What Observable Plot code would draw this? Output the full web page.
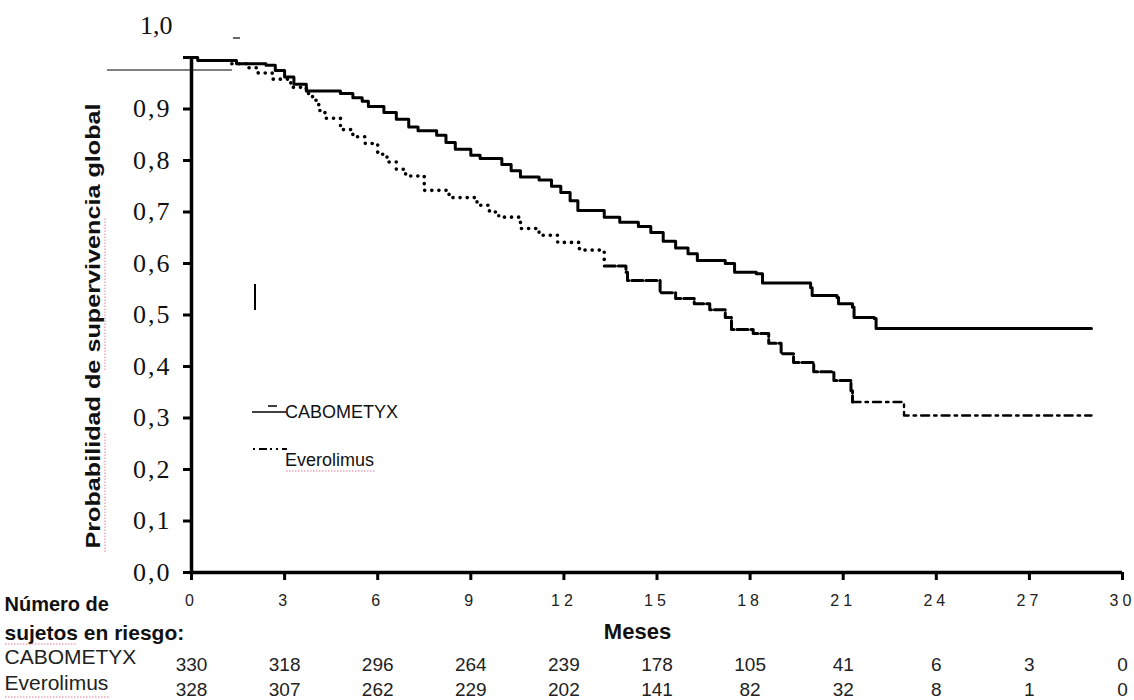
<!DOCTYPE html>
<html>
<head>
<meta charset="utf-8">
<script src="https://cdn.jsdelivr.net/npm/d3@7"></script>
<script src="https://cdn.jsdelivr.net/npm/@observablehq/plot@0.6"></script>
<style>
  html, body { margin: 0; padding: 0; background: #fff; }
  #chart svg { display: block; }
</style>
</head>
<body>
<div id="chart"></div>
<script>
// ---- Data ----
const months = [0, 3, 6, 9, 12, 15, 18, 21, 24, 27, 30];
const caboRisk = [330, 318, 296, 264, 239, 178, 105, 41, 6, 3, 0];
const everoRisk = [328, 307, 262, 229, 202, 141, 82, 32, 8, 1, 0];
const yTicks = [0, 0.1, 0.2, 0.3, 0.4, 0.5, 0.6, 0.7, 0.8, 0.9, 1.0];
const seriesNames = ["CABOMETYX", "Everolimus"];

const caboT = [0, 0.2, 1.45, 2.4, 2.7, 3.0, 3.3, 3.7, 4.8, 5.2, 5.5, 5.7, 6.2, 6.6, 7.0, 7.3, 7.9, 8.2, 8.5, 9.0, 9.3, 10.0, 10.3, 10.6, 11.2, 11.6, 11.9, 12.2, 12.45, 13.3, 13.8, 14.4, 14.8, 15.2, 15.6, 16.0, 16.3, 17.2, 17.5, 18.2, 18.4, 19.95, 20.0, 20.8, 20.85, 21.3, 21.35, 22.0, 22.06, 29.0];
const caboS = [1.0, 0.994, 0.988, 0.985, 0.975, 0.962, 0.948, 0.935, 0.930, 0.922, 0.915, 0.905, 0.893, 0.880, 0.865, 0.858, 0.849, 0.835, 0.822, 0.810, 0.804, 0.792, 0.780, 0.768, 0.762, 0.750, 0.738, 0.722, 0.703, 0.690, 0.680, 0.672, 0.660, 0.643, 0.630, 0.619, 0.606, 0.600, 0.583, 0.580, 0.562, 0.553, 0.538, 0.534, 0.522, 0.515, 0.495, 0.493, 0.474, 0.474];

const everoT = [0, 0.2, 1.3, 1.8, 2.15, 2.6, 3.2, 3.7, 3.9, 4.1, 4.3, 4.8, 5.2, 5.6, 6.0, 6.3, 6.6, 6.9, 7.5, 8.3, 9.2, 9.6, 9.9, 10.6, 11.2, 11.8, 12.5, 13.3, 14.0, 14.05, 15.1, 15.6, 16.2, 16.7, 17.2, 17.4, 18.1, 18.6, 19.0, 19.4, 20.05, 20.7, 21.25, 21.3, 22.95, 22.96, 29.0];
const everoS = [1.0, 0.994, 0.988, 0.980, 0.970, 0.958, 0.942, 0.930, 0.917, 0.897, 0.882, 0.860, 0.846, 0.833, 0.812, 0.797, 0.783, 0.770, 0.742, 0.728, 0.713, 0.700, 0.690, 0.668, 0.655, 0.641, 0.626, 0.595, 0.583, 0.567, 0.543, 0.532, 0.522, 0.510, 0.495, 0.472, 0.464, 0.445, 0.425, 0.408, 0.390, 0.373, 0.353, 0.331, 0.331, 0.305, 0.305];

// ---- Build tables ----
const cabo = caboT.map((t, i) => ({t, s: caboS[i]}));
const evero = everoT.map((t, i) => ({t, s: everoS[i]}));
const risk = months.map((m, i) => ({m, cabo: caboRisk[i], evero: everoRisk[i]}));

const SANS = "Liberation Sans, Arial, sans-serif";
const SERIF = "Liberation Serif, Times New Roman, serif";

const lbl = (txt, dx, dy, extra) => Plot.text([txt], Object.assign({
  frameAnchor: "bottom-left", dx, dy, textAnchor: "start", lineAnchor: "middle",
  fontFamily: SANS, fill: "#111"}, extra));

const plot = Plot.plot({
  width: 1134,
  height: 700,
  marginLeft: 191,
  marginRight: 12,
  marginTop: 57,
  marginBottom: 128,
  style: {background: "#fff", overflow: "visible"},
  x: {domain: [0, 30]},
  y: {domain: [0, 1]},
  marks: [
    Plot.axisY(yTicks, {
      tickSize: 8, tickPadding: 12, label: null,
      tickFormat: d => d >= 1 ? "" : d.toFixed(1).replace(".", ","),
      fontSize: 26, fontFamily: SERIF, fill: "#111"
    }),
    Plot.axisX(months, {
      tickSize: 8, tickPadding: 14, label: null,
      fontSize: 16, fontFamily: SANS, fill: "#222"
    }),
    Plot.ruleX([0], {strokeWidth: 3.5}),
    Plot.ruleY([0], {strokeWidth: 3.5}),
    // "1,0" label sitting above the axis top
    Plot.text(["1,0"], {frameAnchor: "top-left", dx: -19, dy: -32, textAnchor: "end", lineAnchor: "middle",
      fontSize: 26, fontFamily: SERIF, fill: "#111"}),
    // Survival curves
    Plot.line(cabo, {x: "t", y: "s", curve: "step-after", stroke: "black", strokeWidth: 3}),
    Plot.line(evero, {x: "t", y: "s", curve: "step-after", stroke: "black", strokeWidth: 3.6,
      strokeLinecap: "round", strokeDasharray: "0.1,7", filter: d => d.t >= 1.3 && d.t <= 13.3}),
    Plot.line(evero, {x: "t", y: "s", curve: "step-after", stroke: "black", strokeWidth: 3,
      strokeDasharray: "11,3", filter: d => d.t >= 13.3 && d.t <= 21.3}),
    Plot.line(evero, {x: "t", y: "s", curve: "step-after", stroke: "black", strokeWidth: 2.4,
      strokeDasharray: "8,5,2.5,5", filter: d => d.t >= 21.3}),
    // Axis title
    Plot.text(["Meses"], {frameAnchor: "bottom-left", dx: 446, dy: 59, textAnchor: "middle", lineAnchor: "middle",
      fontWeight: "bold", fontSize: 22, fontFamily: SANS, fill: "#111"}),
    // Number at risk table
    lbl("Número de", -187, 32, {fontWeight: "bold", fontSize: 20}),
    lbl("sujetos en riesgo:", -187, 61, {fontWeight: "bold", fontSize: 21}),
    lbl(seriesNames[0], -187, 85, {fontSize: 21, fill: "#222"}),
    lbl(seriesNames[1], -187, 111, {fontSize: 21, fill: "#222"}),
    Plot.text(risk, {x: "m", text: "cabo", frameAnchor: "bottom", dy: 92, lineAnchor: "middle",
      fontSize: 19, fontFamily: SANS, fill: "#222"}),
    Plot.text(risk, {x: "m", text: "evero", frameAnchor: "bottom", dy: 117, lineAnchor: "middle",
      fontSize: 19, fontFamily: SANS, fill: "#222"})
  ]
});

const svg = d3.select(plot);
svg.selectAll('g[aria-label="x-axis tick label"] text').style("letter-spacing", "4px");
svg.selectAll('g[aria-label="y-axis tick label"] text').style("letter-spacing", "2px");
svg.selectAll('g[aria-label="y-axis tick"], g[aria-label="x-axis tick"]').attr("stroke-width", 3);

// Y axis title (horizontally widened like the source)
svg.append("text")
  .attr("transform", "translate(100,326) rotate(-90) scale(1.2,1)")
  .attr("text-anchor", "middle")
  .attr("font-family", SANS).attr("font-weight", "bold").attr("font-size", 21).attr("fill", "#111")
  .text("Probabilidad de supervivencia global");

// Legend (pixel layout)
const lg = svg.append("g").attr("font-family", SANS).attr("font-size", 18).attr("fill", "#111")
  .attr("text-anchor", "start");
lg.append("line").attr("x1", 252).attr("x2", 286).attr("y1", 412).attr("y2", 412)
  .attr("stroke", "black").attr("stroke-width", 1.6);
lg.append("line").attr("x1", 268).attr("x2", 277).attr("y1", 406).attr("y2", 406)
  .attr("stroke", "black").attr("stroke-width", 1.5);
lg.append("text").attr("x", 285).attr("y", 418).text(seriesNames[0]);
lg.append("line").attr("x1", 253).attr("x2", 287).attr("y1", 449).attr("y2", 449)
  .attr("stroke", "black").attr("stroke-width", 2).attr("stroke-dasharray", "2,4,8,3,2,4");
lg.append("text").attr("x", 285).attr("y", 466).text(seriesNames[1]);

// Small marks present in the source image
const deco = svg.append("g").attr("stroke", "black");
deco.append("line").attr("x1", 107).attr("x2", 232).attr("y1", 70).attr("y2", 70).attr("stroke-width", 1.2);
deco.append("line").attr("x1", 233).attr("x2", 240).attr("y1", 38).attr("y2", 38).attr("stroke-width", 1.2);
deco.append("line").attr("x1", 255).attr("x2", 255).attr("y1", 284).attr("y2", 310).attr("stroke-width", 2);

// Spell-check underlines seen in the source
const sq = svg.append("g").attr("stroke", "#e27a9a").attr("stroke-width", 1).attr("stroke-dasharray", "1.5,1.5");
sq.append("line").attr("x1", 105).attr("x2", 105).attr("y1", 552).attr("y2", 432);
sq.append("line").attr("x1", 105).attr("x2", 105).attr("y1", 370).attr("y2", 218);
sq.append("line").attr("x1", 286).attr("x2", 375).attr("y1", 471).attr("y2", 471);
sq.append("line").attr("x1", 5).attr("x2", 76).attr("y1", 644).attr("y2", 644);
sq.append("line").attr("x1", 5).attr("x2", 110).attr("y1", 697).attr("y2", 697);

document.getElementById("chart").appendChild(plot);
</script>
</body>
</html>
